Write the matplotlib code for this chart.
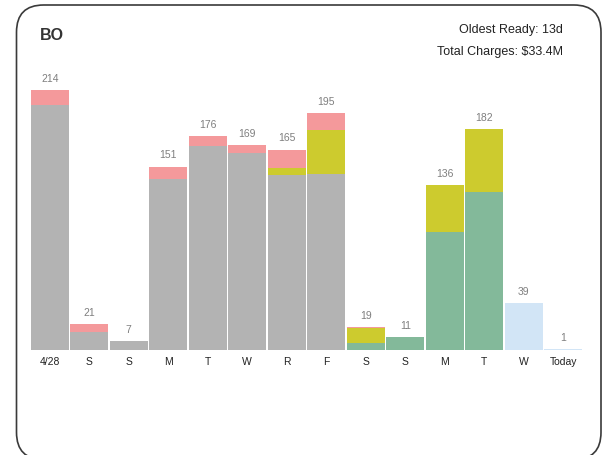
import numpy as np
import matplotlib
matplotlib.use('Agg')
import matplotlib.pyplot as plt
from matplotlib.patches import FancyBboxPatch

plt.rcParams['font.family'] = ['Liberation Sans', 'DejaVu Sans']

# 일자별 라벨
days = ['4/28', 'S', 'S', 'M', 'T', 'W', 'R', 'F', 'S', 'S', 'M', 'T', 'W', 'Today']

# 스택 구성 (아래 -> 위)
gray = [202, 15, 7, 141, 168, 162, 144, 145, 0, 0, 0, 0, 0, 0]
green = [0, 0, 0, 0, 0, 0, 0, 0, 6, 11, 97, 130, 0, 0]
blue = [0, 0, 0, 0, 0, 0, 0, 0, 0, 0, 0, 0, 39, 1]
yellow = [0, 0, 0, 0, 0, 0, 6, 36, 12, 0, 39, 52, 0, 0]
pink = [12, 6, 0, 10, 8, 7, 15, 14, 1, 0, 0, 0, 0, 0]

title = 'BO'
info_lines = ['Oldest Ready: 13d', 'Total Charges: $33.4M']

series = [
    (gray, '#b3b3b3'),
    (green, '#83b99a'),
    (blue, '#d2e5f6'),
    (yellow, '#cdcb2e'),
    (pink, '#f4999b'),
]

W, H = 604, 455
fig = plt.figure(figsize=(W / 100, H / 100), dpi=100)

# 둥근 테두리
frame = FancyBboxPatch((16.5 / W, -0.01), 584.5 / W, 1 - 5 / H + 0.01,
                       boxstyle='round,pad=0,rounding_size=0.045',
                       transform=fig.transFigure, fill=False,
                       edgecolor='#3a3a3a', linewidth=1.2,
                       mutation_aspect=W / H)
fig.patches.append(frame)

ax = fig.add_axes([30 / W, 1 - 350 / H, 553 / W, 260 / H])
x = np.arange(len(days))
bottom = np.zeros(len(days))
for vals, color in series:
    vals = np.array(vals, dtype=float)
    ax.bar(x, vals, width=0.95, bottom=bottom, color=color, linewidth=0)
    bottom += vals

totals = bottom
for xi, t in zip(x, totals):
    ax.text(xi, t + 5, f'{int(t)}', ha='center', va='bottom',
            fontsize=7.5, color='#7f7f7f', clip_on=False)

ax.set_xlim(-0.5, len(days) - 0.5)
ax.set_ylim(0, 214)
ax.set_xticks(x)
ax.set_xticklabels(days, fontsize=7.5, color='#222222')
ax.tick_params(axis='x', length=0, pad=5)
ax.set_yticks([])
for s in ax.spines.values():
    s.set_visible(False)

fig.text(40 / W, 1 - 36 / H, title, fontsize=11.5, fontweight='bold',
         color='#333333', va='center', ha='left')
fig.text(563 / W, 1 - 30 / H, info_lines[0], fontsize=9, color='#222222',
         va='center', ha='right')
fig.text(563 / W, 1 - 52 / H, info_lines[1], fontsize=9, color='#222222',
         va='center', ha='right')

fig.savefig('out.png', dpi=100)
